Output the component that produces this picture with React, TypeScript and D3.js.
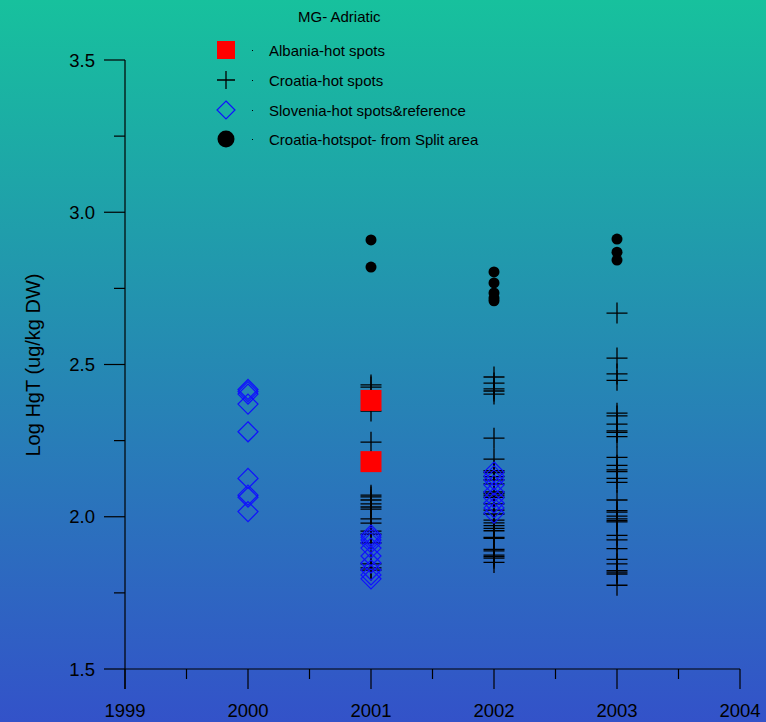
import * as d3 from "d3";
import { useEffect } from "react";

// Albania-hot spots (red squares)
const albaniaYears = [2001, 2001];
const albaniaValues = [2.382, 2.181];

// Croatia-hot spots (plus marks)
const croatiaYears = [
  2001, 2001, 2001, 2001, 2001, 2001, 2001, 2001, 2001, 2001, 2001, 2001, 2001, 2001, 2001, 2001, 2001, 2001,
  2002, 2002, 2002, 2002, 2002, 2002, 2002, 2002, 2002, 2002, 2002, 2002, 2002, 2002, 2002, 2002, 2002, 2002,
  2002, 2002, 2002, 2002, 2002, 2002, 2002, 2002, 2002, 2002, 2002, 2002, 2002, 2002,
  2003, 2003, 2003, 2003, 2003, 2003, 2003, 2003, 2003, 2003, 2003, 2003, 2003, 2003, 2003, 2003, 2003, 2003,
  2003, 2003, 2003, 2003, 2003, 2003, 2003, 2003, 2003, 2003, 2003, 2003, 2003, 2003,
];
const croatiaValues = [
  2.433, 2.426, 2.347, 2.245, 2.071, 2.065, 2.055, 2.042, 2.032, 2.025, 1.993, 1.979, 1.953, 1.943, 1.914, 1.845, 1.832, 1.825,
  2.459, 2.439, 2.42, 2.413, 2.403, 2.258, 2.189, 2.151, 2.145, 2.132, 2.121, 2.108, 2.082, 2.077, 2.071, 2.064, 2.042, 2.022,
  2.009, 1.989, 1.98, 1.971, 1.962, 1.954, 1.932, 1.929, 1.893, 1.888, 1.874, 1.869, 1.864, 1.85,
  2.669, 2.521, 2.469, 2.448, 2.34, 2.331, 2.304, 2.282, 2.277, 2.263, 2.195, 2.169, 2.154, 2.148, 2.126, 2.113, 2.055, 2.02,
  2.015, 2.002, 1.993, 1.987, 1.983, 1.939, 1.924, 1.895, 1.86, 1.845, 1.823, 1.818, 1.812, 1.775,
];

// Slovenia-hot spots&reference (blue diamonds)
const sloveniaYears = [
  2000, 2000, 2000, 2000, 2000, 2000, 2000, 2000, 2000,
  2001, 2001, 2001, 2001, 2001, 2001, 2001, 2001, 2001, 2001,
  2002, 2002, 2002, 2002, 2002, 2002, 2002, 2002, 2002,
];
const sloveniaValues = [
  2.418, 2.411, 2.403, 2.37, 2.279, 2.126, 2.071, 2.064, 2.017,
  1.94, 1.933, 1.924, 1.914, 1.897, 1.871, 1.848, 1.825, 1.809, 1.796,
  2.147, 2.134, 2.121, 2.104, 2.081, 2.062, 2.045, 2.029, 2.012,
];

// Croatia-hotspot- from Split area (black dots)
const splitYears = [2001, 2001, 2002, 2002, 2002, 2002, 2002, 2003, 2003, 2003];
const splitValues = [2.909, 2.82, 2.804, 2.768, 2.735, 2.718, 2.709, 2.912, 2.869, 2.843];

const yTicks = [1.5, 2.0, 2.5, 3.0, 3.5];
const xTicks = [1999, 2000, 2001, 2002, 2003, 2004];

const legendLabels = [
  "Albania-hot spots",
  "Croatia-hot spots",
  "Slovenia-hot spots&reference",
  "Croatia-hotspot- from Split area",
];

const W = 766;
const H = 722;
const FONT = "'Liberation Sans', Arial, sans-serif";

const x = d3.scaleLinear().domain([1999, 2004]).range([125, 740]);
const y = d3.scaleLinear().domain([1.5, 3.5]).range([669, 60]);

function Plus({ cx, cy, s }: { cx: number; cy: number; s: number }) {
  return (
    <path
      d={`M${cx - s},${cy}H${cx + s}M${cx},${cy - s}V${cy + s}`}
      stroke="#000"
      strokeWidth={1.3}
      fill="none"
    />
  );
}

function Diamond({ cx, cy, s }: { cx: number; cy: number; s: number }) {
  return (
    <path
      d={`M${cx},${cy - s}L${cx + s},${cy}L${cx},${cy + s}L${cx - s},${cy}Z`}
      stroke="#1010ff"
      strokeWidth={1.2}
      fill="none"
    />
  );
}

export default function App() {
  useEffect(() => {
    document.body.style.margin = "0";
  }, []);

  const minorX = d3.range(1999.5, 2004, 1);
  const minorY = d3.range(1.75, 3.5, 0.5);
  const legendY = [50, 80, 110, 139];

  return (
    <svg width={W} height={H} style={{ display: "block" }} fontFamily={FONT}>
      <defs>
        <linearGradient id="bg" x1="0" y1="0" x2="0" y2="1">
          <stop offset="0" stopColor="#17C19D" />
          <stop offset="1" stopColor="#3352C9" />
        </linearGradient>
      </defs>
      <rect width={W} height={H} fill="url(#bg)" />

      {/* axes */}
      <g stroke="#000" strokeWidth={1.2}>
        <line x1={x(1999)} x2={x(1999)} y1={y(3.5)} y2={689} />
        <line x1={x(1999)} x2={x(2004)} y1={y(1.5)} y2={y(1.5)} />
        {yTicks.map((t) => (
          <line key={"ym" + t} x1={104} x2={125} y1={y(t)} y2={y(t)} />
        ))}
        {minorY.map((t) => (
          <line key={"yn" + t} x1={114} x2={125} y1={y(t)} y2={y(t)} />
        ))}
        {xTicks.map((t) => (
          <line key={"xm" + t} x1={x(t)} x2={x(t)} y1={669} y2={689} />
        ))}
        {minorX.map((t) => (
          <line key={"xn" + t} x1={x(t)} x2={x(t)} y1={669} y2={679} />
        ))}
      </g>
      {yTicks.map((t) => (
        <text key={"yl" + t} x={95} y={y(t) + 6.5} textAnchor="end" fontSize={18.5} fill="#000">
          {d3.format(".1f")(t)}
        </text>
      ))}
      {xTicks.map((t) => (
        <text key={"xl" + t} x={x(t)} y={717} textAnchor="middle" fontSize={18.5} fill="#000">
          {t}
        </text>
      ))}
      <text
        transform={`translate(40,365) rotate(-90)`}
        textAnchor="middle"
        fontSize={20}
        fill="#000"
      >
        Log HgT (ug/kg DW)
      </text>

      {/* data */}
      {croatiaValues.map((v, i) => (
        <Plus key={"c" + i} cx={x(croatiaYears[i])} cy={y(v)} s={10.5} />
      ))}
      {sloveniaValues.map((v, i) => (
        <Diamond key={"s" + i} cx={x(sloveniaYears[i])} cy={y(v)} s={10} />
      ))}
      {albaniaValues.map((v, i) => (
        <rect
          key={"a" + i}
          x={x(albaniaYears[i]) - 10.5}
          y={y(v) - 10.5}
          width={21}
          height={21}
          fill="#ff0000"
        />
      ))}
      {splitValues.map((v, i) => (
        <circle key={"p" + i} cx={x(splitYears[i])} cy={y(v)} r={5.5} fill="#000" />
      ))}

      {/* legend */}
      <text x={298} y={22} fontSize={15} fill="#000">
        MG- Adriatic
      </text>
      <rect x={217} y={legendY[0] - 9} width={18} height={18} fill="#ff0000" />
      <Plus cx={226} cy={legendY[1]} s={9} />
      <Diamond cx={226} cy={legendY[2]} s={9} />
      <circle cx={226} cy={legendY[3]} r={8.5} fill="#000" />
      {legendLabels.map((l, i) => (
        <g key={"l" + i}>
          <rect x={252} y={legendY[i]} width={1} height={1} fill="#000" />
          <text x={269} y={legendY[i] + 5.5} fontSize={15} fill="#000">
            {l}
          </text>
        </g>
      ))}
    </svg>
  );
}
